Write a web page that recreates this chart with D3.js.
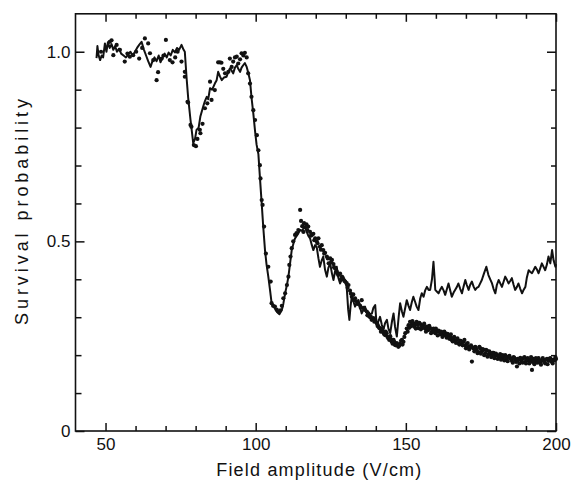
<!DOCTYPE html>
<html>
<head>
<meta charset="utf-8">
<script src="https://cdn.jsdelivr.net/npm/d3@7/dist/d3.min.js"></script>
<style>
  html, body { margin: 0; padding: 0; background: #fff; }
  svg { display: block; }
  text { font-family: "Liberation Sans", Arial, sans-serif; fill: #111; }
</style>
</head>
<body>
<svg id="chart" width="573" height="481"></svg>
<script>
// ---- data ----
const xTickLabels = [50, 100, 150, 200];
const yTickLabels = [0, 0.5, 1.0];
const xTitle = "Field amplitude (V/cm)";
const yTitle = "Survival probability";

// solid line (calculation)
const lineX = [47.0,47.3,47.7,48.2,48.7,49.2,49.8,50.3,50.8,51.4,52.0,52.6,53.2,53.8,54.5,55.2,56.0,56.8,57.5,58.3,59.0,59.8,60.5,61.2,62.0,62.8,63.5,64.2,65.0,65.6,66.3,67.0,67.7,68.3,69.0,69.7,70.4,71.0,71.7,72.4,73.1,73.8,74.5,75.3,76.0,76.4,77.0,77.5,78.3,79.2,79.8,80.3,81.0,81.6,82.5,83.1,83.7,84.2,84.8,85.5,86.4,87.0,87.5,88.1,88.7,89.4,90.3,90.8,91.4,92.0,92.5,93.1,93.7,94.2,94.8,95.3,95.9,96.4,97.0,97.5,98.1,98.6,99.2,99.8,100.3,100.9,101.4,102.0,102.5,103.1,103.6,104.2,104.8,105.3,105.9,106.4,107.0,107.9,108.7,109.2,109.8,110.4,110.9,111.5,112.0,112.6,113.1,113.7,114.2,114.8,115.4,115.9,116.4,117.0,117.5,118.1,118.7,119.2,119.8,120.3,120.9,121.4,122.0,122.5,123.1,123.7,124.2,124.8,125.4,125.9,126.4,127.0,127.5,128.1,128.7,129.2,129.8,130.3,130.8,131.2,131.6,132.0,132.6,133.1,133.7,134.2,134.8,135.3,135.9,136.4,137.0,137.5,138.1,138.7,139.2,139.8,140.3,140.9,141.4,142.0,142.5,143.1,143.7,144.2,144.8,145.4,145.9,146.4,147.0,147.6,148.1,148.7,149.2,149.8,150.3,150.9,151.4,152.0,152.5,153.1,153.6,154.2,154.8,155.3,155.9,156.4,157.0,157.6,158.1,158.7,159.2,159.6,159.8,160.3,160.9,161.4,162.0,162.6,163.1,163.7,164.2,164.8,165.3,165.9,166.4,167.0,167.5,168.1,168.7,169.2,169.8,170.3,170.9,171.4,172.0,172.6,173.1,173.7,174.2,174.8,175.3,176.0,176.8,177.5,178.1,178.7,179.2,179.8,180.3,180.9,181.4,182.0,182.6,183.1,183.7,184.2,184.8,185.3,185.9,186.4,187.0,187.5,188.1,188.7,189.2,189.8,190.3,190.9,191.4,192.0,192.6,193.1,193.7,194.2,194.8,195.3,195.9,196.4,197.0,197.5,198.1,198.7,199.2,199.8,200.0];
const lineY = [0.983,1.015,0.990,0.978,0.990,0.985,1.022,1.000,1.025,1.010,1.020,1.005,1.015,1.000,1.008,0.995,0.990,0.985,0.992,1.000,0.990,1.000,1.010,1.018,1.026,1.005,0.990,0.975,0.960,0.975,0.985,0.975,0.990,0.972,0.985,0.995,0.985,0.998,0.990,1.005,0.998,1.010,1.005,1.018,1.005,1.000,0.930,0.880,0.820,0.759,0.770,0.794,0.800,0.830,0.855,0.870,0.881,0.875,0.904,0.900,0.916,0.925,0.947,0.935,0.925,0.932,0.934,0.945,0.956,0.950,0.943,0.958,0.965,0.955,0.947,0.958,0.965,0.970,0.960,0.945,0.925,0.880,0.838,0.790,0.755,0.730,0.670,0.600,0.540,0.477,0.440,0.407,0.370,0.337,0.330,0.323,0.315,0.308,0.319,0.335,0.363,0.385,0.407,0.445,0.477,0.495,0.508,0.515,0.521,0.530,0.528,0.534,0.540,0.525,0.515,0.508,0.490,0.477,0.490,0.486,0.455,0.433,0.450,0.460,0.425,0.407,0.430,0.442,0.415,0.398,0.420,0.433,0.405,0.389,0.400,0.407,0.392,0.380,0.320,0.293,0.330,0.354,0.340,0.328,0.340,0.345,0.325,0.310,0.320,0.328,0.312,0.301,0.308,0.310,0.325,0.332,0.275,0.290,0.301,0.280,0.266,0.285,0.293,0.270,0.258,0.290,0.310,0.275,0.249,0.300,0.337,0.315,0.301,0.325,0.345,0.330,0.319,0.340,0.354,0.340,0.328,0.319,0.350,0.363,0.354,0.370,0.380,0.372,0.372,0.400,0.446,0.400,0.372,0.368,0.363,0.372,0.380,0.370,0.359,0.375,0.389,0.370,0.354,0.365,0.372,0.380,0.389,0.375,0.363,0.380,0.398,0.385,0.372,0.385,0.394,0.380,0.372,0.378,0.380,0.390,0.398,0.415,0.433,0.411,0.400,0.389,0.375,0.363,0.385,0.398,0.390,0.380,0.395,0.407,0.398,0.389,0.396,0.403,0.385,0.372,0.380,0.389,0.375,0.363,0.372,0.380,0.405,0.424,0.420,0.416,0.425,0.433,0.425,0.416,0.430,0.442,0.432,0.424,0.440,0.460,0.442,0.477,0.450,0.433,0.440];

// dots (measurement)
const dotX = [48.5,51.4,52.0,52.6,53.7,54.8,56.4,57.3,58.1,59.2,60.2,61.2,62.2,63.1,64.2,64.8,65.9,67.0,67.5,68.7,69.3,70.1,71.4,72.3,73.2,74.0,75.3,76.4,76.4,77.3,77.5,78.3,78.6,79.4,80.1,80.6,81.4,81.6,82.3,83.1,83.9,84.8,85.3,86.4,87.5,88.1,88.6,89.2,89.8,90.9,91.4,92.0,92.5,93.1,93.7,94.2,94.8,95.3,95.9,96.4,97.0,97.5,98.1,98.6,99.2,99.8,100.4,100.9,101.4,101.6,102.0,102.3,102.8,103.4,104.2,105.0,105.3,105.8,106.4,107.0,107.5,108.2,108.7,109.2,109.8,110.4,110.9,111.2,111.6,112.0,112.5,113.1,113.6,114.2,114.8,115.1,115.5,115.9,116.4,116.9,117.5,118.1,118.7,119.2,119.8,120.3,120.9,121.4,122.0,122.5,123.1,123.7,124.3,124.8,125.4,125.9,126.4,127.0,127.5,128.1,128.7,129.2,129.8,130.3,130.9,131.4,132.0,132.5,133.1,133.6,134.2,134.8,135.3,135.9,136.4,137.0,137.5,138.1,138.6,139.2,139.8,140.3,140.9,141.4,142.0,142.5,143.1,143.6,144.2,144.8,145.3,145.9,146.4,147.0,147.5,148.1,148.7,149.2,149.8,150.3,150.9,151.4,152.0,152.5,153.1,153.6,154.2,154.8,155.3,155.9,156.4,157.0,157.5,158.1,158.7,159.2,159.8,160.3,160.9,161.4,162.0,162.5,163.1,163.6,164.2,164.8,165.3,165.9,166.4,167.0,167.5,168.1,168.6,169.2,169.8,170.3,170.9,171.4,172.0,172.5,173.1,173.6,174.2,174.8,175.3,175.9,176.4,177.0,177.5,178.1,178.7,179.2,179.8,180.3,180.9,181.4,182.0,182.5,183.1,183.6,184.2,184.8,185.3,185.9,186.4,187.0,187.5,188.1,188.6,189.2,189.8,190.3,190.9,191.4,192.0,192.5,193.1,193.6,194.2,194.8,195.3,195.9,196.4,197.0,197.5,198.1,198.7,199.2,199.8];
const dotY = [1.000,1.026,1.030,0.991,1.018,1.005,0.974,0.995,0.987,0.991,1.000,0.982,1.010,1.035,1.022,0.996,0.978,0.925,0.946,0.982,0.990,1.031,0.978,0.972,0.985,1.000,0.974,0.947,0.934,0.868,0.866,0.807,0.802,0.754,0.751,0.770,0.794,0.785,0.810,0.851,0.864,0.921,0.873,0.899,0.972,0.972,0.971,0.955,0.943,0.947,0.982,0.960,0.974,0.985,0.987,0.969,0.980,0.996,0.990,0.997,0.985,0.943,0.916,0.881,0.846,0.820,0.780,0.740,0.701,0.666,0.609,0.596,0.539,0.468,0.433,0.394,0.337,0.330,0.328,0.320,0.315,0.318,0.330,0.350,0.363,0.385,0.407,0.438,0.460,0.482,0.500,0.517,0.522,0.530,0.583,0.554,0.540,0.525,0.537,0.545,0.539,0.525,0.517,0.520,0.508,0.500,0.508,0.486,0.490,0.477,0.470,0.460,0.442,0.455,0.451,0.440,0.429,0.420,0.411,0.415,0.407,0.400,0.394,0.390,0.385,0.370,0.354,0.360,0.350,0.342,0.337,0.330,0.345,0.325,0.319,0.315,0.310,0.300,0.293,0.298,0.293,0.285,0.275,0.270,0.266,0.260,0.253,0.258,0.244,0.250,0.235,0.240,0.227,0.232,0.222,0.230,0.240,0.235,0.258,0.270,0.279,0.288,0.282,0.284,0.280,0.288,0.271,0.282,0.276,0.279,0.270,0.275,0.266,0.271,0.262,0.270,0.258,0.262,0.265,0.255,0.260,0.253,0.258,0.246,0.252,0.249,0.240,0.245,0.238,0.240,0.232,0.238,0.230,0.235,0.226,0.230,0.222,0.222,0.183,0.218,0.222,0.214,0.208,0.218,0.210,0.214,0.205,0.212,0.202,0.205,0.198,0.206,0.200,0.200,0.195,0.203,0.192,0.196,0.200,0.190,0.196,0.192,0.185,0.195,0.188,0.170,0.187,0.193,0.185,0.192,0.182,0.190,0.186,0.187,0.161,0.190,0.182,0.187,0.192,0.180,0.186,0.187,0.178,0.190,0.185,0.192,0.182,0.188,0.195];
// further measured dots of the same series (dense region)
const dotX2 = [116.1,117.2,118.4,119.5,120.6,121.7,122.8,124.0,125.1,126.1,127.2,128.4,129.5,130.6,131.7,132.8,133.9,135.0,136.1,137.2,138.3,139.5,140.6,141.1,141.7,142.2,142.8,143.3,143.9,144.5,145.0,145.6,146.1,146.7,147.2,147.8,148.4,148.9,149.5,150.6,151.1,151.7,152.2,152.8,153.3,153.9,154.5,155.0,155.6,156.1,156.7,157.2,157.8,158.4,158.9,159.5,160.0,160.6,161.1,161.7,162.2,162.8,163.3,163.9,164.5,165.0,165.6,166.1,166.7,167.2,167.8,168.3,168.9,169.5,170.0,170.6,171.1,171.7,172.2,172.8,173.3,173.9,174.5,175.0,175.6,176.1,176.7,177.2,177.8,178.4,178.9,179.5,180.0,180.6,181.1,181.7,182.2,182.8,183.3,183.9,184.5,185.0,185.6,186.1,186.7,187.2,187.8,188.3,188.9,189.5,190.0,190.6,191.1,191.7,192.2,192.8,193.3,193.9,194.5,195.0,195.6,196.1,196.7,197.2,197.8,198.4,198.9,199.5,200.0];
const dotY2 = [0.548,0.530,0.515,0.503,0.495,0.478,0.468,0.455,0.445,0.432,0.415,0.400,0.396,0.378,0.362,0.345,0.335,0.325,0.322,0.305,0.302,0.288,0.280,0.272,0.262,0.270,0.255,0.262,0.248,0.240,0.242,0.230,0.236,0.226,0.228,0.225,0.238,0.228,0.248,0.262,0.272,0.276,0.290,0.275,0.270,0.280,0.285,0.268,0.272,0.283,0.262,0.270,0.277,0.258,0.266,0.262,0.270,0.252,0.262,0.262,0.248,0.262,0.252,0.256,0.243,0.255,0.236,0.248,0.232,0.244,0.228,0.238,0.226,0.240,0.218,0.232,0.215,0.226,0.220,0.210,0.220,0.205,0.222,0.204,0.216,0.200,0.214,0.196,0.210,0.195,0.206,0.192,0.204,0.190,0.198,0.188,0.200,0.186,0.194,0.184,0.198,0.190,0.180,0.193,0.182,0.190,0.178,0.190,0.180,0.195,0.178,0.192,0.178,0.195,0.182,0.176,0.192,0.180,0.185,0.175,0.192,0.182,0.188,0.176,0.190,0.184,0.178,0.186,0.190];

// ---- layout ----
const W = 573, H = 481;
const L = 75.5, R = 556, T = 13.8, B = 431;
const svg = d3.select("#chart");
svg.append("rect").attr("width", W).attr("height", H).attr("fill", "#fff");

const x = d3.scaleLinear().domain([40, 200]).range([L, R]);
const y = d3.scaleLinear().domain([0, 1.1]).range([B, T]);

const xMinor = d3.range(50, 200, 10).filter(v => v % 50 !== 0);
const yMinor = d3.range(1, 11).map(v => v / 10).filter(v => Math.abs(v - 0.5) > 1e-6 && Math.abs(v - 1) > 1e-6);

function styleAxis(g) {
  g.select(".domain").remove();
  g.selectAll(".tick line").attr("stroke", "#111").attr("stroke-width", 1.5);
  g.selectAll("text").style("font-family", "'Liberation Sans', Arial, sans-serif").style("font-size", "17px").attr("fill", "#111");
}

// bottom
svg.append("g").attr("transform", `translate(0,${B})`)
  .call(d3.axisBottom(x).tickValues(xMinor).tickSize(-5).tickFormat(""))
  .call(styleAxis);
svg.append("g").attr("transform", `translate(0,${B})`)
  .call(d3.axisBottom(x).tickValues(xTickLabels).tickSize(-8).tickPadding(7).tickFormat(d3.format("d")))
  .call(styleAxis);
// top
svg.append("g").attr("transform", `translate(0,${T})`)
  .call(d3.axisTop(x).tickValues(xMinor).tickSize(-5).tickFormat(""))
  .call(styleAxis);
svg.append("g").attr("transform", `translate(0,${T})`)
  .call(d3.axisTop(x).tickValues(xTickLabels).tickSize(-8).tickFormat(""))
  .call(styleAxis);
// left
svg.append("g").attr("transform", `translate(${L},0)`)
  .call(d3.axisLeft(y).tickValues(yMinor).tickSize(-6).tickFormat(""))
  .call(styleAxis);
svg.append("g").attr("transform", `translate(${L},0)`)
  .call(d3.axisLeft(y).tickValues(yTickLabels).tickSize(-9).tickPadding(5)
    .tickFormat(d => d === 0 ? "0" : d3.format(".1f")(d)))
  .call(styleAxis);
// right
svg.append("g").attr("transform", `translate(${R},0)`)
  .call(d3.axisRight(y).tickValues(yMinor).tickSize(-5).tickFormat(""))
  .call(styleAxis);
svg.append("g").attr("transform", `translate(${R},0)`)
  .call(d3.axisRight(y).tickValues(yTickLabels).tickSize(-9).tickFormat(""))
  .call(styleAxis);

// frame
svg.append("rect").attr("x", L).attr("y", T).attr("width", R - L).attr("height", B - T)
  .attr("fill", "none").attr("stroke", "#111").attr("stroke-width", 1.6);

// line
const lineData = lineX.map((v, i) => [v, lineY[i]]);
svg.append("path").datum(lineData)
  .attr("fill", "none").attr("stroke", "#111").attr("stroke-width", 2.0)
  .attr("stroke-linejoin", "round")
  .attr("d", d3.line().x(d => x(d[0])).y(d => y(d[1])));

// dots
const dotData = dotX.map((v, i) => [v, dotY[i]]).concat(dotX2.map((v, i) => [v, dotY2[i]]));
svg.append("g").selectAll("circle").data(dotData).join("circle")
  .attr("cx", d => x(d[0])).attr("cy", d => y(d[1])).attr("r", 2.1).attr("fill", "#111");

// titles
svg.append("text").attr("x", (L + R) / 2 + 3).attr("y", 476)
  .attr("text-anchor", "middle").attr("textLength", 205).attr("lengthAdjust", "spacing")
  .style("font-size", "18px").text(xTitle);
svg.append("text").attr("transform", `translate(28,212) rotate(-90)`)
  .attr("text-anchor", "middle").attr("textLength", 226).attr("lengthAdjust", "spacing")
  .style("font-size", "18px").text(yTitle);
</script>
</body>
</html>
